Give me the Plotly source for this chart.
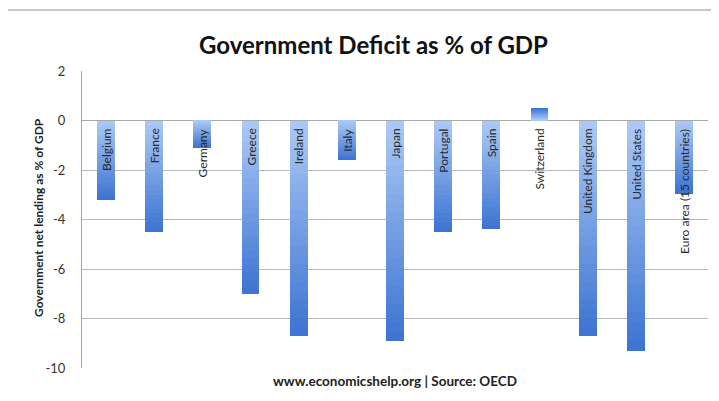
import plotly.graph_objects as go

categories = ["Belgium", "France", "Germany", "Greece", "Ireland", "Italy", "Japan",
              "Portugal", "Spain", "Switzerland", "United Kingdom", "United States",
              "Euro area (15 countries)"]
deficit = [-3.2, -4.5, -1.1, -7.0, -8.7, -1.6, -8.9, -4.5, -4.4, 0.5, -8.7, -9.3, -2.95]
y_ticks = [2, 0, -2, -4, -6, -8, -10]

FONT = "Lato"
W, H = 719, 401
OFF = 8  # page body margin
# plot area in screen pixels
PL, PR, PT, PB = 82, 708, 71, 368
L, R, T, B = PL - OFF, OFF + W - PR, PT - OFF, OFF + H - PB


def px(x):
    return (x - PL) / (PR - PL)


def py(y):
    return (PB - y) / (PB - PT)


fig = go.Figure()

# gradient via overlaid bars (dark at far end, light near zero)
N = 24
dark = (62, 117, 210)
light = (170, 200, 245)
for k in range(N):
    f = (N - k) / N
    t = k / (N - 1)
    c = tuple(round(dark[i] + (light[i] - dark[i]) * t) for i in range(3))
    fig.add_trace(go.Bar(
        x=categories, y=[v * f for v in deficit], width=0.37,
        marker=dict(color="rgb(%d,%d,%d)" % c, line=dict(width=0)),
        showlegend=False, hoverinfo="skip"))

for cat, v in zip(categories, deficit):
    fig.add_annotation(x=cat, y=0, xref="x", yref="y", text=cat, textangle=-90,
                       showarrow=False, xanchor="center", yanchor="top", yshift=-6,
                       font=dict(family=FONT, size=12, color="#2a2a2a"))

fig.add_annotation(x=px(373), y=py(44), xref="paper", yref="paper",
                   text="<b>Government Deficit as % of GDP</b>", showarrow=False,
                   xanchor="center", yanchor="middle",
                   font=dict(family=FONT, size=24, color="#111"))
fig.add_annotation(x=px(395), y=py(381), xref="paper", yref="paper",
                   text="<b>www.economicshelp.org | Source: OECD</b>", showarrow=False,
                   xanchor="center", yanchor="middle",
                   font=dict(family=FONT, size=13.5, color="#222"))
fig.add_annotation(x=px(38), y=py(218), xref="paper", yref="paper",
                   text="<b>Government net lending as % of GDP</b>", showarrow=False,
                   textangle=-90, xanchor="center", yanchor="middle",
                   font=dict(family=FONT, size=12, color="#222"))

# outer frame
fig.add_shape(type="rect", xref="paper", yref="paper",
              x0=px(4.5), x1=px(740), y0=py(420), y1=py(10),
              line=dict(color="#b5b5b5", width=1.5), fillcolor="rgba(0,0,0,0)", layer="below")

fig.update_layout(
    width=W, height=H, barmode="overlay", bargap=0,
    margin=dict(l=L, r=R, t=T, b=B),
    paper_bgcolor="white", plot_bgcolor="white",
    xaxis=dict(showticklabels=False, showgrid=False, zeroline=False, showline=False,
               ticks=""),
    yaxis=dict(range=[-10, 2], tickvals=y_ticks, ticktext=[str(t) for t in y_ticks],
               showgrid=True, gridcolor="#b8b8b8", gridwidth=1,
               zeroline=True, zerolinecolor="#a8a8a8", zerolinewidth=1,
               showline=True, linecolor="#a8a8a8", linewidth=1,
               ticks="", ticklabelstandoff=13,
               tickfont=dict(family=FONT, size=13, color="#333")),
    font=dict(family=FONT),
)

fig.write_html("out.html")
